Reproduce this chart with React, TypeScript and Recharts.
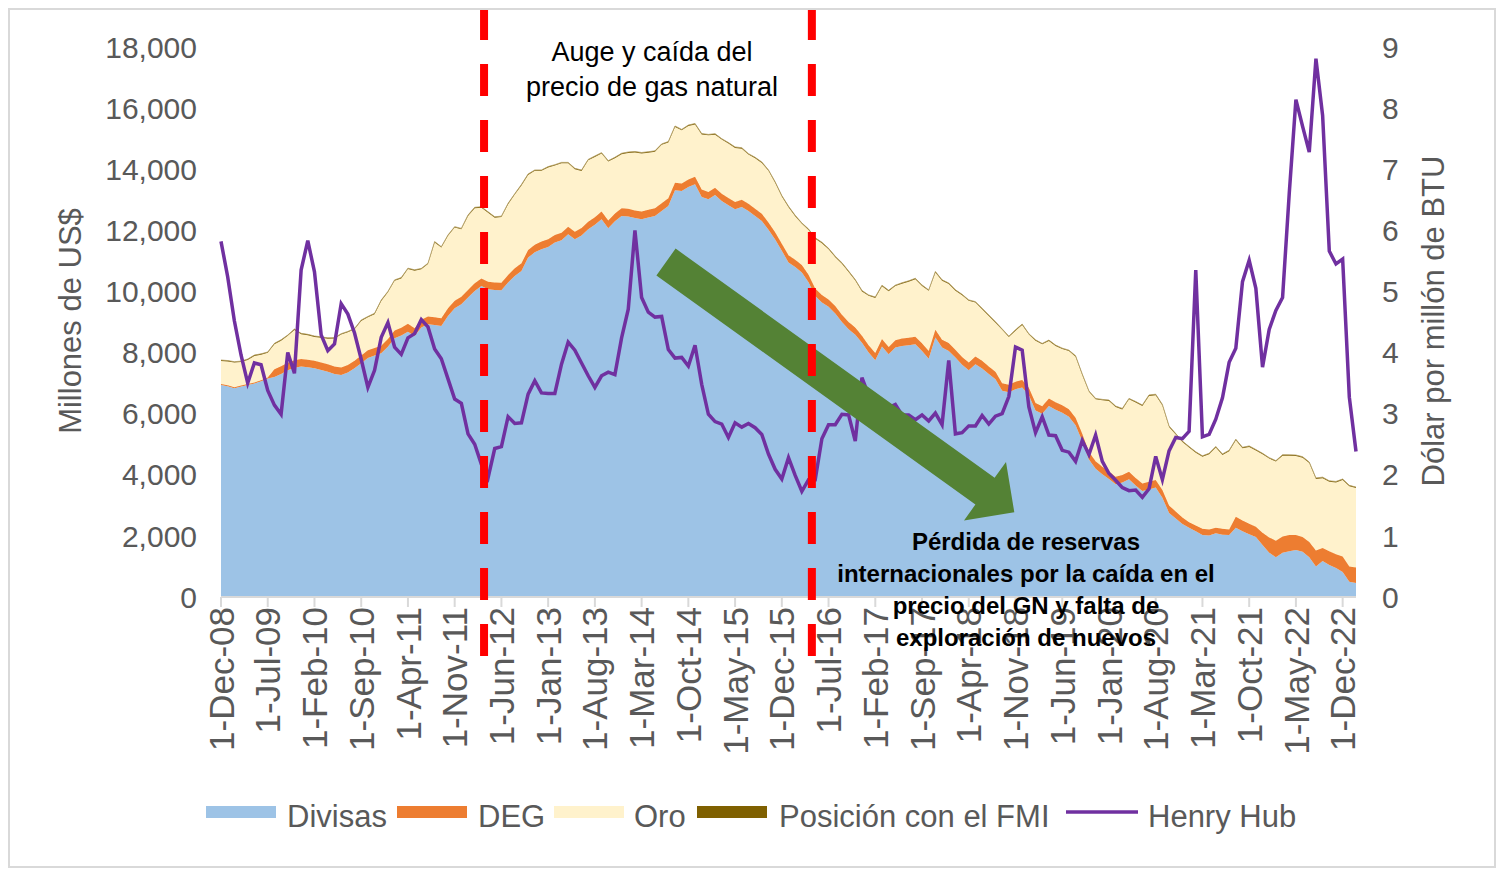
import React from 'react';
import { ComposedChart, Area, Line, XAxis, YAxis, ReferenceLine } from 'recharts';

// ---------- categories ----------
const MONTH_NAMES = ['Jan', 'Feb', 'Mar', 'Apr', 'May', 'Jun', 'Jul', 'Aug', 'Sep', 'Oct', 'Nov', 'Dec'];
// monthly observations, Dec-2008 .. Feb-2023
const months: string[] = Array.from({ length: 171 }, (_, i) => {
  const t = 11 + i;
  return `1-${MONTH_NAMES[t % 12]}-${String(8 + Math.floor(t / 12)).padStart(2, '0')}`;
});

const tickLabels = [
  '1-Dec-08', '1-Jul-09', '1-Feb-10', '1-Sep-10', '1-Apr-11', '1-Nov-11', '1-Jun-12', '1-Jan-13',
  '1-Aug-13', '1-Mar-14', '1-Oct-14', '1-May-15', '1-Dec-15', '1-Jul-16', '1-Feb-17', '1-Sep-17',
  '1-Apr-18', '1-Nov-18', '1-Jun-19', '1-Jan-20', '1-Aug-20', '1-Mar-21', '1-Oct-21', '1-May-22', '1-Dec-22',
];
const leftTicks = [0, 2000, 4000, 6000, 8000, 10000, 12000, 14000, 16000, 18000];
const rightTicks = [0, 1, 2, 3, 4, 5, 6, 7, 8, 9];

// boom period markers (month positions: mid-Mar-2012, mid-May-2016)
const boomPeriod = [39.4, 88.5];

// ---------- series (millones de US$) ----------
const divisas = [
  6939,
  6900, 6830, 6890, 6939, 6990, 7060, 7150, 7200, 7300, 7420, 7500, 7540,
  7520, 7485, 7430, 7375, 7300, 7267, 7350, 7485, 7650, 7820, 7900, 7975,
  8193, 8466, 8560, 8684, 8544, 8816, 8925, 8900, 8871, 9200, 9450, 9580,
  9798, 10017, 10180, 10071, 10050, 10038, 10289, 10508, 10671, 11107, 11280, 11380,
  11457, 11598, 11675, 11872, 11708, 11828, 12034, 12180, 12362, 12067, 12300, 12471,
  12450, 12400, 12362, 12420, 12471, 12636, 12799, 13311, 13289, 13420, 13508, 13093,
  13016, 13158, 12962, 12820, 12690, 12766, 12636, 12470, 12308, 12020, 11700, 11330,
  10950, 10800, 10620, 10300, 9850, 9640, 9500, 9280, 9000, 8760, 8580, 8320,
  8000, 7750, 8200, 7943, 8162, 8217, 8240, 8270, 8053, 7800, 8489, 8162,
  8053, 7835, 7600, 7420, 7617, 7480, 7300, 7126, 6750, 6700, 6800, 6853,
  6600, 6100, 6000, 6253, 6130, 6034, 5900, 5620, 5100, 4500, 4200, 4015,
  3860, 3687, 3750, 3851, 3650, 3471, 3520, 3580, 3250, 2750, 2570, 2390,
  2265, 2150, 2030, 2010, 2085, 2040, 2026, 2265, 2150, 2050, 1964, 1700,
  1450, 1299, 1450, 1500, 1542, 1483, 1300, 998, 1178, 1050, 950, 818,
  500, 458,
];

const deg = [
  30,
  30, 31, 31, 31, 30, 30, 30, 250, 250, 250, 250, 250,
  248, 250, 247, 245, 240, 240, 243, 246, 250, 252, 251, 250,
  252, 253, 255, 256, 255, 256, 254, 252, 248, 250, 249, 248,
  249, 250, 247, 246, 245, 246, 248, 250, 251, 250, 250, 251,
  252, 249, 248, 248, 249, 248, 248, 250, 251, 251, 252, 252,
  253, 253, 253, 252, 252, 251, 250, 248, 246, 244, 243, 240,
  238, 236, 237, 240, 238, 237, 238, 238, 237, 236, 236, 235,
  238, 240, 242, 243, 244, 240, 240, 242, 240, 238, 236, 234,
  236, 238, 240, 242, 244, 246, 248, 250, 250, 252, 254, 255,
  258, 257, 255, 252, 250, 248, 247, 246, 245, 244, 245, 246,
  247, 246, 245, 246, 245, 244, 244, 245, 246, 245, 246, 247,
  246, 245, 244, 245, 246, 247, 248, 250, 250, 242, 230, 210,
  183, 190, 200, 196, 180, 190, 180, 363, 350, 350, 336, 400,
  500, 543, 530, 526, 484, 481, 500, 521, 426, 450, 450, 508,
  500, 504,
];

const oro = [
  758,
  780, 812, 770, 790, 870, 840, 810, 823, 840, 876, 992, 810,
  800, 778, 810, 833, 920, 1083, 1070, 1029, 1136, 1080, 1105, 1466,
  1527, 1630, 1610, 1793, 1879, 1654, 1716, 2450, 2316, 2370, 2392, 2207,
  2425, 2457, 2316, 2261, 2118, 2152, 2317, 2412, 2549, 2458, 2416, 2316,
  2348, 2272, 2272, 2075, 2043, 1868, 2011, 1974, 1901, 1934, 1810, 1770,
  1830, 1896, 1901, 1870, 1847, 1911, 1824, 1825, 1738, 1749, 1715, 1803,
  1854, 1738, 1770, 1780, 1769, 1671, 1605, 1650, 1661, 1690, 1620, 1540,
  1570, 1420, 1350, 1470, 1630, 1700, 1640, 1600, 1670, 1640, 1540, 1448,
  1620, 1800, 1732, 1825, 1770, 1791, 1830, 1880, 1879, 1968, 1879, 1934,
  1934, 1933, 2020, 2021, 1769, 1689, 1650, 1606, 1750, 1563, 1670, 1802,
  1740, 2040, 2023, 1879, 1840, 1836, 1905, 2000, 1920, 1970, 2023, 2175,
  2308, 2283, 2146, 2372, 2470, 2533, 2812, 2774, 2770, 2575, 2515, 2470,
  2444, 2380, 2358, 2464, 2627, 2420, 2565, 2503, 2366, 2512, 2494, 2570,
  2579, 2589, 2644, 2594, 2588, 2596, 2585, 2346, 2286, 2270, 2350, 2503,
  2623, 2602,
];

const fmi = [
  28,
  28, 28, 28, 28, 28, 28, 28, 28, 28, 28, 28, 28,
  28, 28, 28, 28, 28, 28, 28, 28, 28, 28, 28, 28,
  29, 29, 29, 29, 29, 29, 29, 29, 29, 29, 29, 29,
  29, 29, 29, 29, 29, 29, 29, 29, 29, 29, 29, 29,
  29, 29, 29, 29, 29, 29, 29, 29, 29, 29, 29, 29,
  31, 31, 31, 31, 31, 31, 31, 31, 31, 31, 31, 31,
  31, 31, 31, 31, 31, 31, 31, 31, 31, 31, 31, 31,
  31, 31, 31, 31, 31, 31, 31, 31, 31, 31, 31, 31,
  30, 30, 30, 30, 30, 30, 30, 30, 30, 30, 30, 30,
  30, 30, 30, 30, 30, 30, 30, 30, 30, 30, 30, 30,
  30, 30, 30, 30, 30, 30, 30, 30, 30, 30, 30, 30,
  32, 32, 32, 32, 32, 32, 32, 32, 32, 32, 32, 32,
  32, 32, 32, 32, 32, 32, 32, 32, 32, 32, 32, 32,
  32, 32, 32, 32, 32, 32, 32, 32, 32, 32, 32, 32,
  32, 32,
];

// Henry Hub (US$ / millón de BTU)
const henryHub = [
  5.82,
  5.24, 4.52, 3.96, 3.50, 3.83, 3.80, 3.38, 3.14, 2.99, 4.00, 3.66, 5.35,
  5.83, 5.32, 4.29, 4.03, 4.14, 4.80, 4.63, 4.32, 3.89, 3.43, 3.71, 4.25,
  4.49, 4.09, 3.97, 4.24, 4.31, 4.54, 4.42, 4.06, 3.90, 3.57, 3.24, 3.17,
  2.67, 2.50, 2.17, 1.95, 2.43, 2.46, 2.95, 2.84, 2.85, 3.32, 3.54, 3.34,
  3.33, 3.33, 3.81, 4.17, 4.04, 3.83, 3.62, 3.43, 3.62, 3.68, 3.64, 4.24,
  4.71, 6.00, 4.90, 4.66, 4.58, 4.59, 4.05, 3.91, 3.92, 3.78, 4.12, 3.48,
  2.99, 2.87, 2.83, 2.61, 2.85, 2.78, 2.84, 2.77, 2.66, 2.34, 2.09, 1.93,
  2.28, 1.99, 1.73, 1.92, 1.92, 2.59, 2.82, 2.82, 2.99, 2.98, 2.55, 3.59,
  3.30, 2.85, 2.88, 3.10, 3.15, 2.98, 2.98, 2.90, 2.98, 2.88, 3.01, 2.82,
  3.87, 2.67, 2.69, 2.80, 2.80, 2.97, 2.83, 2.96, 3.00, 3.28, 4.09, 4.04,
  3.11, 2.69, 2.95, 2.65, 2.64, 2.40, 2.37, 2.22, 2.56, 2.33, 2.65, 2.22,
  2.02, 1.91, 1.79, 1.74, 1.75, 1.63, 1.77, 2.30, 1.92, 2.39, 2.61, 2.59,
  2.71, 5.35, 2.62, 2.66, 2.91, 3.26, 3.84, 4.07, 5.16, 5.51, 5.05, 3.76,
  4.38, 4.69, 4.90, 6.60, 8.14, 7.70, 7.28, 8.81, 7.88, 5.66, 5.45, 5.53,
  3.27, 2.38,
];

const data = months.map((m, i) => ({
  idx: i,
  month: m,
  divisas: divisas[i],
  deg: deg[i],
  oro: oro[i],
  fmi: fmi[i],
  hh: henryHub[i],
}));
const tickIndices = tickLabels.map((l) => months.indexOf(l));

const FONT = '"Liberation Sans", Arial, Helvetica, sans-serif';
const GRAY = '#595959';
const C_DIV = '#9DC3E6';
const C_DEG = '#ED7D31';
const C_ORO = '#FFF2CC';
const C_FMI = '#7F6000';
const C_HH = '#7030A0';

const CHART_W = 1484;
const CHART_H = 757;
const MARGIN = { top: 37, right: 0, bottom: 0, left: 0 };

const XTick = (props: any) => {
  const { x, y, payload } = props;
  return (
    <text
      x={x}
      y={y}
      dy="0.36em"
      transform={`rotate(-90, ${x}, ${y})`}
      textAnchor="end"
      fill={GRAY}
      fontSize={35}
      fontFamily={FONT}
    >
      {months[payload.value]}
    </text>
  );
};

// vertical dashed marker: runs from the top edge of the figure down into the tick-label band
const DashedShape = (props: any) => {
  const { x1, x2, y1, y2 } = props;
  const bottom = Math.max(Number(y1), Number(y2));
  return (
    <line x1={x1} x2={x2} y1={-2} y2={bottom + 61} stroke="#FF0000" strokeWidth={8} strokeDasharray="32 24" />
  );
};

const legendItems = [
  { label: 'Divisas', color: C_DIV, sx: 196, tx: 277 },
  { label: 'DEG', color: C_DEG, sx: 387, tx: 468 },
  { label: 'Oro', color: C_ORO, sx: 544, tx: 624 },
  { label: 'Posición con el FMI', color: C_FMI, sx: 687, tx: 769 },
];

export default function App() {
  return (
    <div
      style={{
        position: 'relative',
        width: 1488,
        height: 860,
        border: '2px solid #d9d9d9',
        boxSizing: 'border-box',
        fontFamily: FONT,
        background: '#fff',
      }}
    >
      <ComposedChart width={CHART_W} height={CHART_H} data={data} margin={MARGIN}>
        <XAxis
          dataKey="idx"
          type="number"
          domain={[0, 170]}
          ticks={tickIndices}
          interval={0}
          tick={(p: any) => <XTick {...p} />}
          height={170}
          tickSize={10}
          tickMargin={0}
          axisLine={{ stroke: '#d9d9d9', strokeWidth: 2 }}
          tickLine={{ stroke: '#d9d9d9', strokeWidth: 2 }}
        />
        <YAxis
          yAxisId="left"
          domain={[0, 18000]}
          ticks={leftTicks}
          width={211}
          axisLine={false}
          tickLine={false}
          tickSize={0}
          tickMargin={24}
          tick={{ fill: GRAY, fontSize: 30, fontFamily: FONT }}
          tickFormatter={(v: number) => v.toLocaleString('en-US')}
        />
        <YAxis
          yAxisId="right"
          orientation="right"
          domain={[0, 9]}
          ticks={rightTicks}
          width={138}
          axisLine={false}
          tickLine={false}
          tickSize={0}
          tickMargin={26}
          tick={{ fill: GRAY, fontSize: 30, fontFamily: FONT }}
        />
        <Area yAxisId="left" type="linear" stackId="res" dataKey="divisas" name="Divisas" fill={C_DIV} fillOpacity={1} stroke="none" isAnimationActive={false} />
        <Area yAxisId="left" type="linear" stackId="res" dataKey="deg" name="DEG" fill={C_DEG} fillOpacity={1} stroke={C_DEG} strokeWidth={1} isAnimationActive={false} />
        <Area yAxisId="left" type="linear" stackId="res" dataKey="oro" name="Oro" fill={C_ORO} fillOpacity={1} stroke="none" isAnimationActive={false} />
        <Area yAxisId="left" type="linear" stackId="res" dataKey="fmi" name="Posición con el FMI" fill={C_FMI} fillOpacity={1} stroke="#b09a5e" strokeWidth={0.8} isAnimationActive={false} />
        <Line yAxisId="right" type="linear" dataKey="hh" name="Henry Hub" stroke={C_HH} strokeWidth={3.5} dot={false} activeDot={false} isAnimationActive={false} />
      </ComposedChart>

      <svg
        width={1484}
        height={856}
        style={{ position: 'absolute', left: 0, top: 0, pointerEvents: 'none', fontFamily: FONT }}
      >
        {/* green arrow */}
        <polygon
          points="665.6,238.6 984.6,467.8 996,452 1004.3,502.2 954,510.4 965.4,494.6 646.4,265.4"
          fill="#548235"
        />
        {/* annotations */}
        <text x={642} y={51} textAnchor="middle" fontSize={27} fill="#000">Auge y caída del</text>
        <text x={642} y={86} textAnchor="middle" fontSize={27} fill="#000">precio de gas natural</text>
        <text x={1016} y={540} textAnchor="middle" fontSize={24} fontWeight="bold" fill="#000">Pérdida de reservas</text>
        <text x={1016} y={572} textAnchor="middle" fontSize={24} fontWeight="bold" fill="#000">internacionales por la caída en el</text>
        <text x={1016} y={604} textAnchor="middle" fontSize={24} fontWeight="bold" fill="#000">precio del GN y falta de</text>
        <text x={1016} y={636} textAnchor="middle" fontSize={24} fontWeight="bold" fill="#000">exploración de nuevos</text>
        {/* axis titles */}
        <text x={60} y={311} transform="rotate(-90, 60, 311)" textAnchor="middle" dominantBaseline="central" fontSize={31} fill={GRAY}>
          Millones de US$
        </text>
        <text x={1423} y={311} transform="rotate(-90, 1423, 311)" textAnchor="middle" dominantBaseline="central" fontSize={31} fill={GRAY}>
          Dólar por millón de BTU
        </text>
        {/* legend */}
        {legendItems.map((it) => (
          <g key={it.label}>
            <rect x={it.sx} y={796} width={70} height={12} fill={it.color} />
            <text x={it.tx} y={817} fontSize={31} fill={GRAY}>{it.label}</text>
          </g>
        ))}
        <line x1={1056} x2={1128} y1={802} y2={802} stroke={C_HH} strokeWidth={3.5} />
        <text x={1138} y={817} fontSize={31} fill={GRAY}>Henry Hub</text>
      </svg>

      {/* reference-line layer drawn above the series, on the same scales */}
      <div style={{ position: 'absolute', left: 0, top: 0, pointerEvents: 'none' }}>
        <ComposedChart width={CHART_W} height={CHART_H} data={data} margin={MARGIN}>
          <XAxis dataKey="idx" type="number" domain={[0, 170]} height={170} tick={false} axisLine={false} tickLine={false} />
          <YAxis yAxisId="left" domain={[0, 18000]} width={211} tick={false} axisLine={false} tickLine={false} />
          <YAxis yAxisId="right" orientation="right" domain={[0, 9]} width={138} tick={false} axisLine={false} tickLine={false} />
          <Line yAxisId="left" type="linear" dataKey="divisas" stroke="none" strokeWidth={0} dot={false} activeDot={false} legendType="none" isAnimationActive={false} />
          <ReferenceLine yAxisId="left" x={boomPeriod[0]} ifOverflow="visible" shape={(p: any) => <DashedShape {...p} />} />
          <ReferenceLine yAxisId="left" x={boomPeriod[1]} ifOverflow="visible" shape={(p: any) => <DashedShape {...p} />} />
        </ComposedChart>
      </div>
    </div>
  );
}
